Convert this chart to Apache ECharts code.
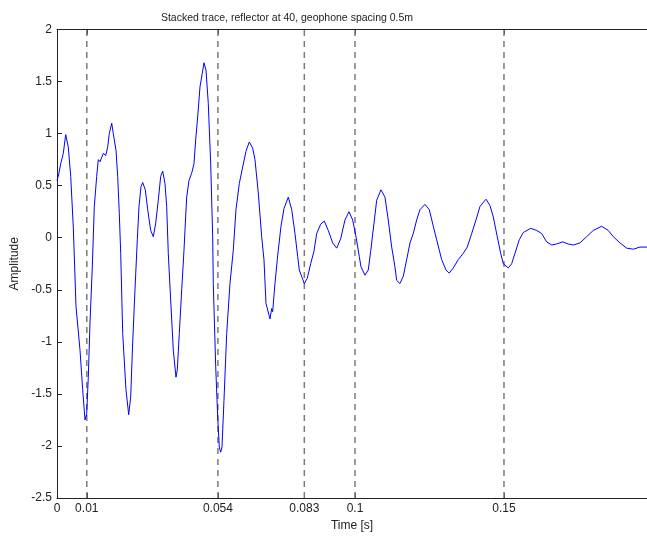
<!DOCTYPE html>
<html>
<head>
<meta charset="utf-8">
<script src="https://cdn.jsdelivr.net/npm/echarts@6/dist/echarts.min.js"></script>
<style>
  html, body { margin: 0; padding: 0; background: #fff; }
  #chart { width: 647px; height: 540px; }
</style>
</head>
<body>
<div id="chart"></div>
<script>
// Stacked seismic trace: time (s) and amplitude samples
const times = [
  0, 0.00044, 0.00124, 0.00211, 0.00292, 0.00379, 0.00460, 0.00547, 0.00638, 0.00772,
  0.00862, 0.00940, 0.00997, 0.01050, 0.01107, 0.01185, 0.01252, 0.01332, 0.01386, 0.01443,
  0.01554, 0.01634, 0.01701, 0.01755, 0.01836, 0.01889, 0.01980, 0.02037, 0.02091, 0.02138,
  0.02205, 0.02315, 0.02406, 0.02473, 0.02540, 0.02617, 0.02695, 0.02752, 0.02819, 0.02876,
  0.02963, 0.03044, 0.03144, 0.03232, 0.03312, 0.03399, 0.03480, 0.03547, 0.03624, 0.03681,
  0.03735, 0.03815, 0.03903, 0.03993, 0.04037, 0.04104, 0.04185, 0.04262, 0.04295, 0.04352,
  0.04430, 0.04520, 0.04597, 0.04654, 0.04721, 0.04799, 0.04876, 0.04933, 0.05000, 0.05077,
  0.05158, 0.05225, 0.05245, 0.05326, 0.05393, 0.05446, 0.05493, 0.05537, 0.05604, 0.05695,
  0.05805, 0.05916, 0.06007, 0.06117, 0.06232, 0.06342, 0.06453, 0.06567, 0.06644, 0.06755,
  0.06869, 0.06946, 0.07013, 0.07148, 0.07205, 0.07238, 0.07315, 0.07393, 0.07426, 0.07517,
  0.07617, 0.07762, 0.07876, 0.07987, 0.08077, 0.08131, 0.08299, 0.08399, 0.08513, 0.08624,
  0.08715, 0.08849, 0.08970, 0.09104, 0.09252, 0.09386, 0.09520, 0.09664, 0.09799, 0.09923,
  0.10034, 0.10144, 0.10201, 0.10336, 0.10446, 0.10527, 0.10638, 0.10728, 0.10872, 0.11007,
  0.11117, 0.11232, 0.11342, 0.11399, 0.11510, 0.11621, 0.11735, 0.11846, 0.11956, 0.12070,
  0.12181, 0.12349, 0.12493, 0.12628, 0.12742, 0.12909, 0.13054, 0.13164, 0.13299, 0.13466,
  0.13634, 0.13768, 0.13916, 0.14060, 0.14195, 0.14396, 0.14530, 0.14641, 0.14775, 0.14889,
  0.14977, 0.15144, 0.15258, 0.15369, 0.15513, 0.15648, 0.15896, 0.16097, 0.16265, 0.16433,
  0.16601, 0.16768, 0.16970, 0.17158, 0.17326, 0.17550, 0.17775, 0.17997, 0.18279, 0.18500,
  0.18668, 0.18893, 0.19117, 0.19339, 0.19564, 0.19799
];
const amplitude = [
  0.55, 0.59, 0.71, 0.81, 0.99, 0.87, 0.59, 0.10, -0.66, -1.08,
  -1.46, -1.75, -1.69, -1.34, -0.82, -0.28, 0.30, 0.59, 0.75, 0.73,
  0.81, 0.79, 0.87, 1.00, 1.10, 1.00, 0.84, 0.59, 0.23, -0.15,
  -0.92, -1.46, -1.70, -1.53, -1.01, -0.50, -0.02, 0.30, 0.49, 0.53,
  0.46, 0.27, 0.07, 0.01, 0.14, 0.36, 0.59, 0.64, 0.52, 0.30,
  -0.15, -0.60, -1.08, -1.34, -1.27, -0.92, -0.50, -0.12, 0.07, 0.39,
  0.55, 0.62, 0.71, 0.94, 1.16, 1.45, 1.58, 1.68, 1.61, 1.29,
  0.71, 0.01, -0.44, -1.24, -1.72, -2.01, -2.06, -2.01, -1.56, -0.92,
  -0.44, -0.12, 0.27, 0.52, 0.68, 0.83, 0.92, 0.86, 0.75, 0.43,
  0.01, -0.21, -0.63, -0.78, -0.68, -0.71, -0.44, -0.21, -0.12, 0.11,
  0.28, 0.39, 0.27, 0.04, -0.18, -0.31, -0.44, -0.39, -0.25, -0.13,
  0.04, 0.13, 0.16, 0.07, -0.05, -0.10, -0.01, 0.17, 0.25, 0.17,
  0.01, -0.18, -0.28, -0.36, -0.31, -0.13, 0.14, 0.36, 0.46, 0.39,
  0.17, -0.09, -0.28, -0.41, -0.44, -0.37, -0.21, -0.05, 0.04, 0.17,
  0.27, 0.32, 0.27, 0.11, -0.02, -0.21, -0.31, -0.34, -0.29, -0.21,
  -0.15, -0.09, 0.04, 0.17, 0.30, 0.37, 0.31, 0.20, 0.01, -0.15,
  -0.25, -0.29, -0.25, -0.15, -0.02, 0.05, 0.09, 0.07, 0.04, -0.04,
  -0.07, -0.06, -0.04, -0.06, -0.07, -0.05, 0.01, 0.07, 0.11, 0.07,
  0.01, -0.05, -0.10, -0.11, -0.09, -0.09
];
// Labelled times on the axis, and the event times marked with dashed lines
const timeTicks = [0, 0.01, 0.054, 0.083, 0.1, 0.15];
const eventTimes = [0.01, 0.054, 0.083, 0.1, 0.15];
const timeRange = [0, 0.198];
const ampRange = [-2.5, 2];

const FONT = 'Liberation Sans, Arial, sans-serif';
const chart = echarts.init(document.getElementById('chart'), null, { renderer: 'canvas' });

const trace = times.map((t, i) => [t, amplitude[i]]);

// one vertical dashed series per event time, spanning the full amplitude range
const eventSeries = eventTimes.map(t => ({
  type: 'line',
  xAxisIndex: 0,
  data: [[t, ampRange[0]], [t, ampRange[1]]],
  showSymbol: false,
  silent: true,
  lineStyle: { color: '#7a7a7a', type: [6, 5], width: 1.5 },
  z: 2
}));

chart.setOption({
  animation: false,
  backgroundColor: '#ffffff',
  title: {
    text: 'Stacked trace, reflector at 40, geophone spacing 0.5m',
    left: 282,
    top: 8,
    textAlign: 'center',
    textStyle: { fontFamily: FONT, fontSize: 10.5, fontWeight: 'normal', color: '#222' }
  },
  grid: { left: 57, top: 29.5, width: 590, height: 468.5, containLabel: false },
  xAxis: [
    {
      type: 'value',
      position: 'bottom',
      min: timeRange[0],
      max: timeRange[1],
      name: 'Time [s]',
      nameLocation: 'middle',
      nameGap: 20,
      nameTextStyle: { fontFamily: FONT, fontSize: 12, color: '#222' },
      axisLine: { show: true, onZero: false, lineStyle: { color: '#222', width: 1 } },
      axisTick: { show: true, inside: true, length: 5, customValues: timeTicks, lineStyle: { color: '#222' } },
      axisLabel: {
        customValues: timeTicks,
        fontFamily: FONT, fontSize: 12, color: '#222', margin: 5,
        formatter: v => String(v)
      },
      splitLine: { show: false }
    },
    {
      type: 'value',
      position: 'top',
      min: timeRange[0],
      max: timeRange[1],
      axisLine: { show: true, onZero: false, lineStyle: { color: '#222', width: 1 } },
      axisTick: { show: true, inside: true, length: 5, customValues: timeTicks, lineStyle: { color: '#222' } },
      axisLabel: { show: false },
      splitLine: { show: false }
    }
  ],
  yAxis: {
    type: 'value',
    min: ampRange[0],
    max: ampRange[1],
    interval: 0.5,
    name: 'Amplitude',
    nameLocation: 'middle',
    nameGap: 31,
    nameTextStyle: { fontFamily: FONT, fontSize: 12, color: '#222' },
    axisLine: { show: true, onZero: false, lineStyle: { color: '#222', width: 1 } },
    axisTick: { show: true, inside: true, length: 5, lineStyle: { color: '#222' } },
    axisLabel: { fontFamily: FONT, fontSize: 12, color: '#222', margin: 5 },
    splitLine: { show: false }
  },
  series: eventSeries.concat([
    {
      type: 'line',
      xAxisIndex: 0,
      data: trace,
      showSymbol: false,
      smooth: false,
      lineStyle: { color: '#0000ff', width: 1 },
      z: 3
    }
  ])
});
</script>
</body>
</html>
